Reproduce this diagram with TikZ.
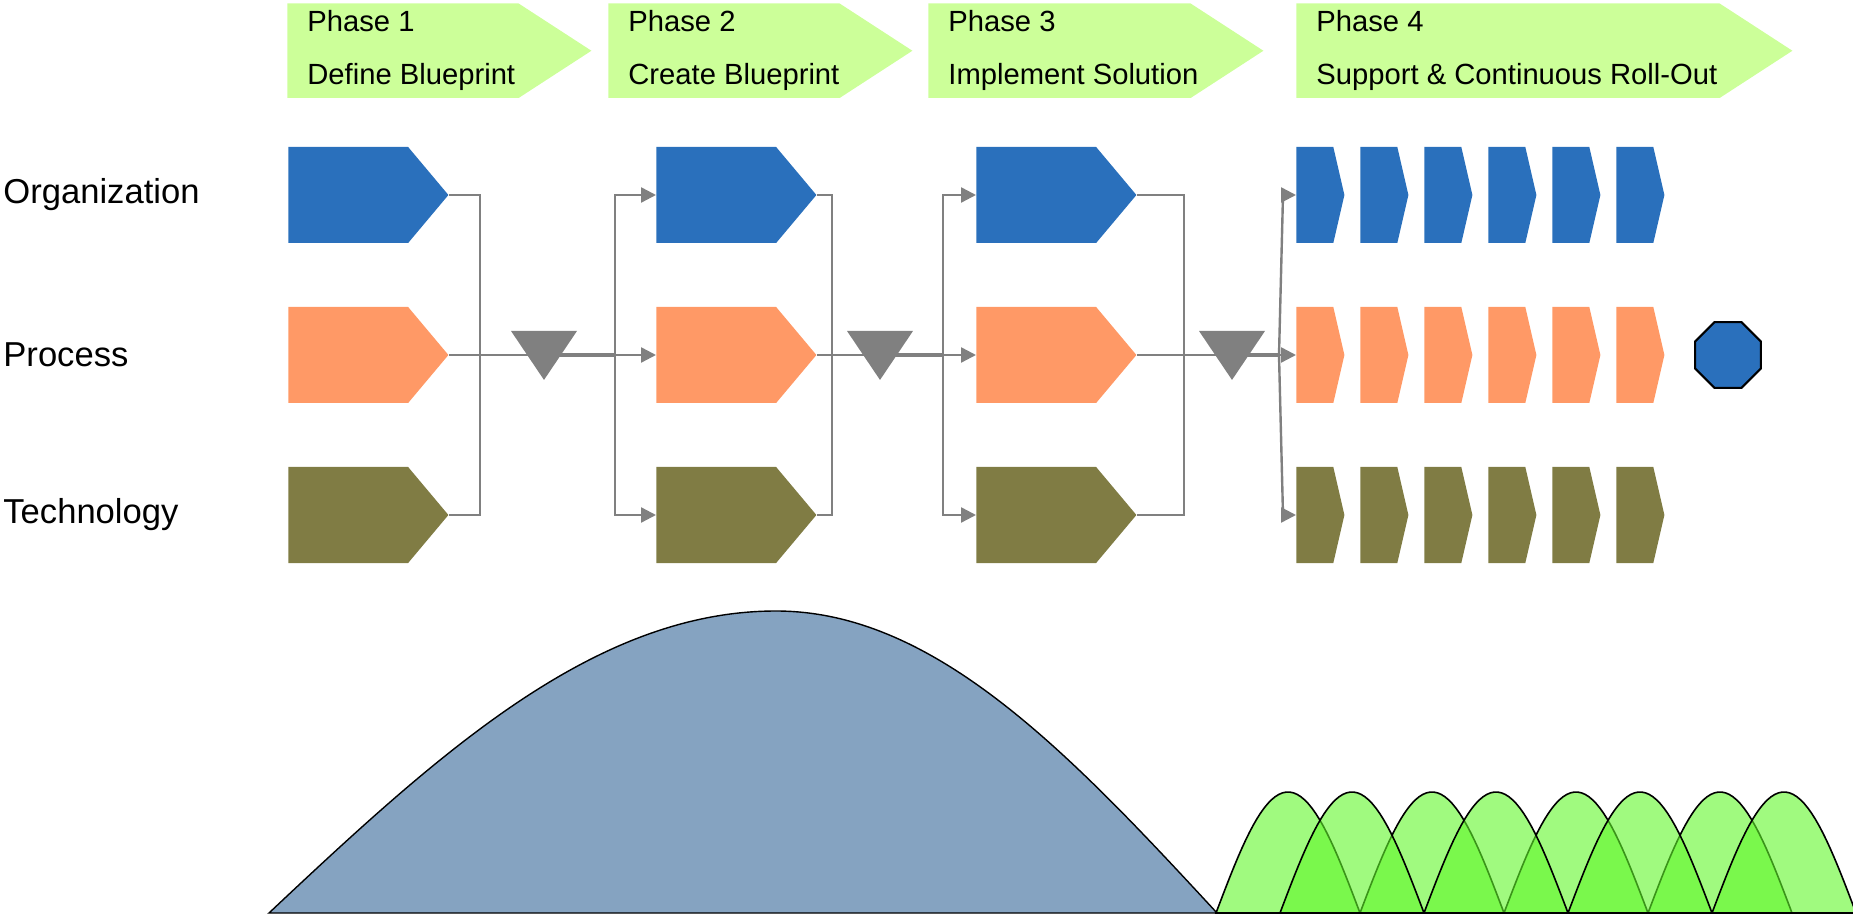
\documentclass[tikz,border=0pt]{standalone}
\usepackage{fontspec}
\setmainfont{Liberation Sans}
\usetikzlibrary{positioning}
\usetikzlibrary{calc}
\usetikzlibrary{arrows.meta}
\usetikzlibrary{shapes.symbols}
\usetikzlibrary{shapes.geometric}

\definecolor{orgblue}{RGB}{42,112,188}
\definecolor{procorange}{RGB}{255,153,102}
\definecolor{techolive}{RGB}{128,124,68}
\definecolor{phasegreen}{RGB}{204,255,153}
\definecolor{linegray}{RGB}{128,128,128}
\definecolor{humpblue}{RGB}{133,163,193}
\definecolor{wavegreen}{RGB}{97,247,42}

\begin{document}
\begin{tikzpicture}[x=0.5pt,y=-0.5pt,
    phasebox/.style={signal, signal to=east, signal pointer angle=66, fill=phasegreen, minimum height=47.25pt, inner sep=0pt, anchor=west},
    phasetext/.style={anchor=west, align=left, inner sep=0pt, font=\fontsize{14.6pt}{26.5pt}\selectfont},
    rowlabel/.style={anchor=west, inner sep=0pt, font=\fontsize{17.3pt}{20pt}\selectfont},
    block/.style={signal, signal to=east, signal pointer angle=100, minimum width=80pt, minimum height=48pt, inner sep=0pt, anchor=west},
    chevron/.style={signal, signal to=east, signal pointer angle=154, minimum width=24pt, minimum height=48pt, inner sep=0pt, anchor=west},
    gate/.style={regular polygon, regular polygon sides=3, shape border rotate=180, fill=linegray, minimum size=38.1pt, inner sep=0pt, yscale=0.857},
    stopsign/.style={regular polygon, regular polygon sides=8, fill=orgblue, draw=black, line width=1pt, minimum size=35.5pt, inner sep=0pt},
    link/.style={draw=linegray, line width=1pt},
    feed/.style={draw=linegray, line width=1.6pt},
    dist/.style={draw=linegray, line width=1.2pt, -{Triangle[length=7.5pt, width=7.5pt]}},
    wave/.style={fill=wavegreen, fill opacity=0.6, draw=black, line width=0.8pt}]
    \useasboundingbox (0,0) rectangle (1853,919);

    % Phasen
    \node [phasebox, minimum width=152pt] (ph1) at (287,50.75) {};
    \node [phasebox, minimum width=152pt] (ph2) at (608,50.75) {};
    \node [phasebox, minimum width=167.5pt] (ph3) at (928,50.75) {};
    \node [phasebox, minimum width=248pt] (ph4) at (1296,50.75) {};
    \node [phasetext] (ph1txt) at ([xshift=10pt]ph1.west) {Phase 1\\Define Blueprint};
    \node [phasetext] (ph2txt) at ([xshift=10pt]ph2.west) {Phase 2\\Create Blueprint};
    \node [phasetext] (ph3txt) at ([xshift=10pt]ph3.west) {Phase 3\\Implement Solution};
    \node [phasetext] (ph4txt) at ([xshift=10pt]ph4.west) {Phase 4\\Support \& Continuous Roll-Out};

    % Zeilen
    \node [rowlabel] (lblorg) at (3,195) {Organization};
    \node [rowlabel] (lblproc) at (3,355) {Process};
    \node [rowlabel] (lbltech) at (3,515) {Technology};

    % Bloecke
    \node [block, fill=orgblue] (org1) at (288,195) {};
    \node [block, fill=procorange] (proc1) at (288,355) {};
    \node [block, fill=techolive] (tech1) at (288,515) {};
    \node [block, fill=orgblue] (org2) at (656,195) {};
    \node [block, fill=procorange] (proc2) at (656,355) {};
    \node [block, fill=techolive] (tech2) at (656,515) {};
    \node [block, fill=orgblue] (org3) at (976,195) {};
    \node [block, fill=procorange] (proc3) at (976,355) {};
    \node [block, fill=techolive] (tech3) at (976,515) {};
    \foreach \i in {1,...,6} {
        \node [chevron, fill=orgblue] (orgR\i) at ({1296+(\i-1)*64},195) {};
        \node [chevron, fill=procorange] (procR\i) at ({1296+(\i-1)*64},355) {};
        \node [chevron, fill=techolive] (techR\i) at ({1296+(\i-1)*64},515) {};
    }
    \node [stopsign] (stop) at (1728,355) {};

    % Gates
    \node [gate] (gate1) at (544,347.3) {};
    \node [gate] (gate2) at (880,347.3) {};
    \node [gate] (gate3) at (1232,347.3) {};
    \coordinate (join1) at (480,355);
    \coordinate (join2) at (832,355);
    \coordinate (join3) at (1184,355);
    \coordinate (split1) at (615,355);
    \coordinate (split2) at (943,355);
    \coordinate (split3) at (1279,355);
    \coordinate (split3top) at (1283,195);
    \coordinate (split3bot) at (1283,515);

    % Verbindungen
    \draw [link] (org1.east) -| (join1 |- tech1.east) -- (tech1.east);
    \draw [link] (proc1.east) -- (gate1 |- proc1.east);
    \draw [feed] (gate1 |- proc1.east) -- (split1);
    \draw [dist] (split1) |- (org2.west);
    \draw [dist] (split1) -- (proc2.west);
    \draw [dist] (split1) |- (tech2.west);

    \draw [link] (org2.east) -| (join2 |- tech2.east) -- (tech2.east);
    \draw [link] (proc2.east) -- (gate2 |- proc2.east);
    \draw [feed] (gate2 |- proc2.east) -- (split2);
    \draw [dist] (split2) |- (org3.west);
    \draw [dist] (split2) -- (proc3.west);
    \draw [dist] (split2) |- (tech3.west);

    \draw [link] (org3.east) -| (join3 |- tech3.east) -- (tech3.east);
    \draw [link] (proc3.east) -- (gate3 |- proc3.east);
    \draw [feed] (gate3 |- proc3.east) -- (split3);
    \draw [dist] (split3) -- (split3top) -- (orgR1.west);
    \draw [dist] (split3) -- (procR1.west);
    \draw [dist] (split3) -- (split3bot) -- (techR1.west);

    % Aufwand
    \filldraw [fill=humpblue, draw=black, line width=0.7pt] (269,913) .. controls (438,754) and (594,611) .. (776,611) .. controls (935,611) and (1070,754) .. (1217,913) -- cycle;
    \foreach \s in {1216,1360,1504,1648}
        \filldraw [wave] plot[domain=0:180, samples=40] ({\s+\x*0.8},{913-121*sin(\x)}) -- cycle;
    \foreach \s in {1280,1424,1568,1712}
        \filldraw [wave] plot[domain=0:180, samples=40] ({\s+\x*0.8},{913-121*sin(\x)}) -- cycle;
\end{tikzpicture}
\end{document}
